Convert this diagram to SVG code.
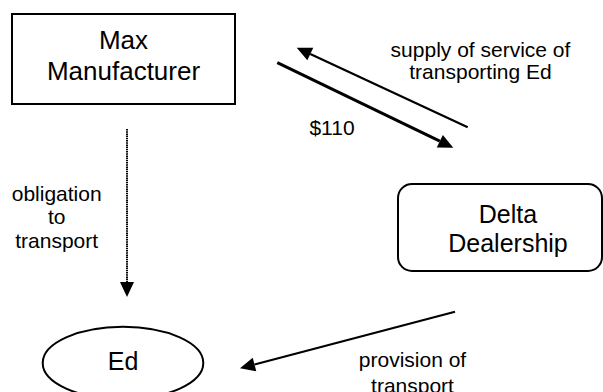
<svg xmlns="http://www.w3.org/2000/svg" width="603" height="392" viewBox="0 0 603 392">
<style>
.node{fill:#fff;stroke:#000;stroke-width:2}
.nt{font-family:"Liberation Sans",Arial,sans-serif;font-size:25px;fill:#000;text-anchor:middle}
.lt{font-family:"Liberation Sans",Arial,sans-serif;font-size:21px;fill:#000;text-anchor:middle}
.conn{fill:none;stroke:#000;stroke-width:2.2;marker-end:url(#ah)}
</style>
<defs>
<marker id="ah" markerUnits="userSpaceOnUse" markerWidth="15" markerHeight="14" refX="0" refY="7" orient="auto" overflow="visible">
<path d="M0,0 L15,7 L0,14 z" fill="#000"/>
</marker>
</defs>
<rect width="603" height="392" fill="#fff"/>
<g id="max">
<rect class="node" x="12" y="14" width="223" height="90"/>
<text class="nt" x="123.5" y="49" style="font-size:26px">Max</text>
<text class="nt" x="123.5" y="80" style="font-size:26px">Manufacturer</text>
</g>
<g id="delta">
<rect class="node" x="398" y="184" width="204" height="87" rx="14"/>
<text class="nt" x="508" y="223">Delta</text>
<text class="nt" x="508" y="252">Dealership</text>
</g>
<g id="ed">
<ellipse class="node" cx="123" cy="363" rx="80.3" ry="36.2"/>
<text class="nt" x="123" y="370">Ed</text>
</g>
<g id="connectors">
<path class="conn" d="M467.7,127.3 L310.3,54"/>
<path class="conn" d="M277.3,62.7 L439.8,141.2" style="stroke-width:3"/>
<path class="conn" d="M127,129 L127,282" style="stroke-dasharray:1.5 0.7;stroke-width:2"/>
<path class="conn" d="M455,311.7 L254.5,364.5"/>
</g>
<g id="labels">
<text class="lt" x="480.5" y="56.7">supply of service of</text>
<text class="lt" x="480.5" y="79.3">transporting Ed</text>
<text class="lt" x="332" y="135">$110</text>
<text class="lt" x="56.7" y="200.7">obligation</text>
<text class="lt" x="56.7" y="224.3">to</text>
<text class="lt" x="56.7" y="248.3">transport</text>
<text class="lt" x="412.5" y="367.3">provision of</text>
<text class="lt" x="412.5" y="393">transport</text>
</g>
</svg>
